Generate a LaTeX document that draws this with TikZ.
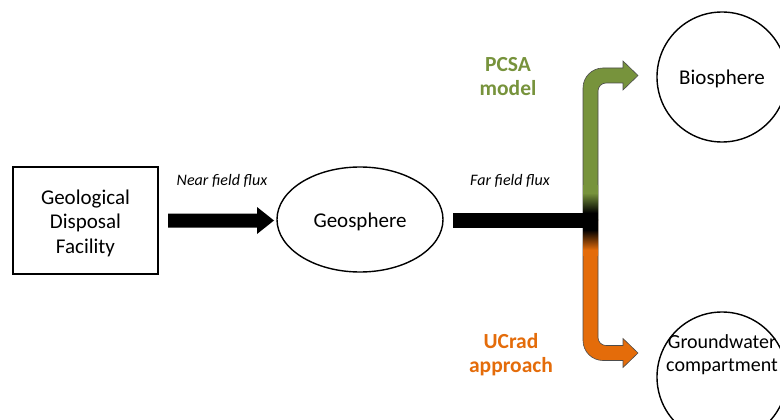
\documentclass[tikz,border=0pt]{standalone}
\usepackage{fontspec}
\setmainfont{Carlito}
\usetikzlibrary{shapes.geometric}
\definecolor{pgreen}{HTML}{77933C}
\definecolor{uorange}{HTML}{E46C0A}
\pgfdeclareverticalshading{junc}{100bp}{color(0bp)=(uorange); color(28.6bp)=(uorange); color(43bp)=(black); color(55bp)=(black); color(69.3bp)=(pgreen); color(100bp)=(pgreen)}
\begin{document}
\begin{tikzpicture}[x=1pt,y=-1pt,
  shapeline/.style={draw,line width=1.4pt},
  maintext/.style={font=\fontsize{21}{24.5}\selectfont,align=center},
  lowered/.style={text height=20pt,text depth=4.5pt},
  fluxtext/.style={font=\fontsize{16}{18}\selectfont\itshape},
  modeltext/.style={font=\fontsize{21.5}{24}\selectfont\bfseries,align=center},
  outl/.style={draw=black!70,line width=0.6pt}]
\useasboundingbox (0,0) rectangle (780,420);
% main nodes
\node[shapeline,minimum width=145pt,minimum height=107pt] (gdf) at (85.5,220.5) {};
\node[maintext] (gdft) at ([yshift=-2.8pt]gdf.center) {Geological\\Disposal\\Facility};
\node[shapeline,maintext,lowered,ellipse,minimum width=166pt,minimum height=105pt,inner sep=0pt] (geo) at (360,219.5) {Geosphere};
\node[shapeline,maintext,lowered,circle,minimum size=130pt,inner sep=0pt] (bio) at (722,77) {Biosphere};
\node[shapeline,circle,minimum size=130pt] (gw) at (722,377) {};
\node[maintext,font=\fontsize{20}{23}\selectfont] (gwt) at (722,355) {Groundwater\\compartment};
% labels
\node[fluxtext] (nff) at (222,181) {Near field flux};
\node[fluxtext] (fff) at (510,181) {Far field flux};
\node[modeltext,text=pgreen] (pcsa) at (508,77) {PCSA\\model};
\node[modeltext,text=uorange] (ucrad) at (511,355) {UCrad\\approach};
% near field arrow
\fill (168,213.5) -- (257,213.5) -- (257,207) -- (274,220.5) -- (257,234) -- (257,227.5) -- (168,227.5) -- cycle;
% green arrow
\path[fill=pgreen,outl] (583,220) -- (583,88) arc[start angle=180,end angle=270,radius=20]
  -- (623,68) -- (623,61) -- (638,75.5) -- (623,90) -- (623,83) -- (606,83)
  arc[start angle=270,end angle=180,radius=8] -- (598,220) -- cycle;
% orange arrow
\path[fill=uorange,outl] (583,220) -- (583,340.5) arc[start angle=180,end angle=90,radius=20]
  -- (623,360.5) -- (623,367.5) -- (638,353) -- (623,338.5) -- (623,345.5) -- (606,345.5)
  arc[start angle=90,end angle=180,radius=8] -- (598,220) -- cycle;
% gradient junction
\shade[shading=junc] (583,185) rectangle (598,255);
% far field bar
\fill[black] (453,212.5) rectangle (598,228);
\end{tikzpicture}
\end{document}
